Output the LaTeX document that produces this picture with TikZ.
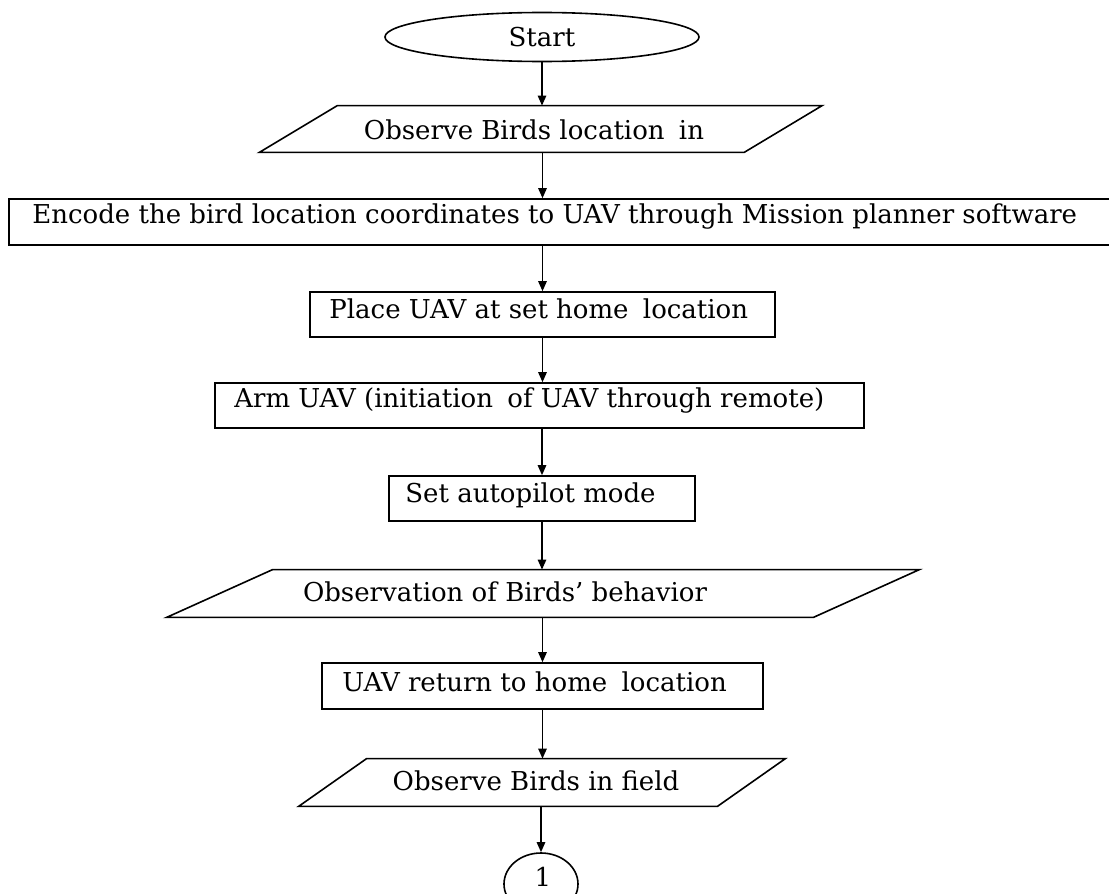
\documentclass[tikz,border=0pt]{standalone}
\usepackage{fontspec}
\setmainfont{DejaVu Serif}
\usetikzlibrary{shapes.geometric,arrows.meta}
\newcommand{\wsp}{\hspace{0.55em}}
\begin{document}
\begin{tikzpicture}[x=0.5pt,y=-0.5pt,
  every node/.style={font=\fontsize{13pt}{15pt}\selectfont},
  box/.style={draw=black, line width=0.8pt, inner sep=0pt, rectangle},
  oval/.style={draw=black, line width=0.8pt, inner sep=0pt, ellipse},
  ghost/.style={inner sep=0pt, rectangle},
  para/.style={draw=black, line width=0.8pt, line join=miter},
  txt/.style={inner sep=0pt, anchor=west},
  ctxt/.style={inner sep=0pt, anchor=center},
  flow/.style={draw=black, line width=0.8pt, -{Triangle[length=5pt,width=4.2pt]}}
]
\fill[white] (0,0) rectangle (1109,894);
\useasboundingbox (0,0) rectangle (1109,894);

% Start
\node[oval, minimum width=157pt, minimum height=24.5pt] (start) at (542,37) {Start};

% Parallelogram 1
\node[ghost, minimum width=242pt, minimum height=23pt] (p1) at (540.75,129) {};
\draw[para] ([xshift=19.5pt]p1.north west) -- ([xshift=19.5pt]p1.north east)
  -- ([xshift=-19.5pt]p1.south east) -- ([xshift=-19.5pt]p1.south west) -- cycle;
\node[ctxt] (t1) at (534,130) {Observe Birds location\wsp in};

% Rectangle 2
\node[box, minimum width=552.5pt, minimum height=23pt] (r2) at (561.5,222) {};
\node[txt] (t2) at (32,217) {Encode the bird location coordinates to UAV through Mission planner software};

% Rectangle 3
\node[box, minimum width=232.5pt, minimum height=22.5pt] (r3) at (542.5,314.5) {};
\node[txt] (t3) at (329,309) {Place UAV at set home\wsp location};

% Rectangle 4
\node[box, minimum width=324.5pt, minimum height=22.5pt] (r4) at (539.5,405.5) {};
\node[txt] (t4) at (234,401) {Arm UAV (initiation\wsp of UAV through remote)};

% Rectangle 5
\node[box, minimum width=153pt, minimum height=22.5pt] (r5) at (542,498.5) {};
\node[txt] (t5) at (405,495) {Set autopilot mode};

% Parallelogram 6
\node[ghost, minimum width=323pt, minimum height=23.5pt] (p6) at (543,593.5) {};
\draw[para] ([xshift=26.5pt]p6.north west) -- ([xshift=26.5pt]p6.north east)
  -- ([xshift=-26.5pt]p6.south east) -- ([xshift=-26.5pt]p6.south west) -- cycle;
\node[ctxt] (t6) at (505,592) {Observation of Birds’ behavior};

% Rectangle 7
\node[box, minimum width=220.5pt, minimum height=23pt] (r7) at (542.5,686) {};
\node[txt] (t7) at (342,682) {UAV return to home\wsp location};

% Parallelogram 8
\node[ghost, minimum width=209pt, minimum height=23.5pt] (p8) at (542,782.5) {};
\draw[para] ([xshift=17pt]p8.north west) -- ([xshift=17pt]p8.north east)
  -- ([xshift=-17pt]p8.south east) -- ([xshift=-17pt]p8.south west) -- cycle;
\node[ctxt] (t8) at (536,781) {Observe Birds in field};

% Connector circle
\node[oval, minimum width=37pt, minimum height=31pt] (c) at (541,884) {};
\node[ctxt] (t9) at (543,877) {1};

% Arrows
\draw[flow] (start.south) -- (start.south |- p1.north);
\draw[flow] (r3.north |- p1.south) -- (r3.north |- r2.north);
\draw[flow] (r3.north |- r2.south) -- (r3.north);
\draw[flow] (r3.south) -- (r3.south |- r4.north);
\draw[flow] (r5.north |- r4.south) -- (r5.north);
\draw[flow] (r5.south) -- (r5.south |- p6.north);
\draw[flow] (r7.north |- p6.south) -- (r7.north);
\draw[flow] (r7.south) -- (r7.south |- p8.north);
\draw[flow] (c.north |- p8.south) -- (c.north);
\end{tikzpicture}
\end{document}
